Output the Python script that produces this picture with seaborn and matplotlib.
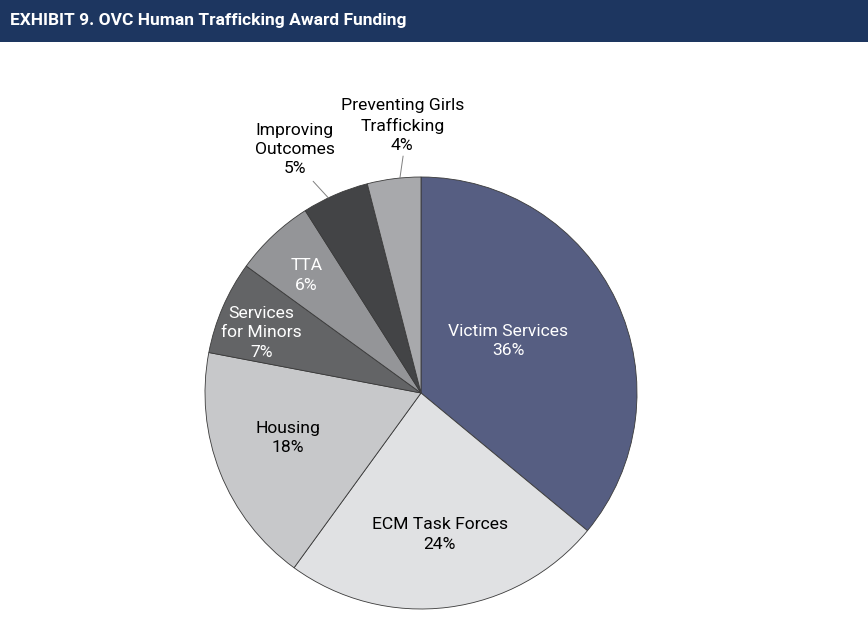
import numpy as np
import seaborn as sns
import matplotlib.pyplot as plt
from matplotlib.patches import Rectangle

sns.set_theme(style="white")
plt.rcParams['font.family'] = ['Roboto', 'DejaVu Sans']

# data
categories = ['Victim Services', 'ECM Task Forces', 'Housing', 'Services\nfor Minors',
              'TTA', 'Improving\nOutcomes', 'Preventing Girls\nTrafficking']
shares = [36, 24, 18, 7, 6, 5, 4]
colors = ['#565E82', '#E0E1E3', '#C7C8CA', '#636466', '#949598', '#434446', '#A8A9AC']
text_colors = ['white', 'black', 'black', 'white', 'white', 'black', 'black']
# label radius (fraction of pie radius) and angle tweak in degrees
label_r = [0.47, 0.66, 0.65, 0.79, 0.76, 1.27, 1.24]
label_dang = [5.5, 0.4, -2.9, 2.7, 1.1, 4.0, -3.2]
outside = [False, False, False, False, False, True, True]

fig = plt.figure(figsize=(8.68, 6.19), dpi=100)
ax = fig.add_axes([0, 0, 1, 1])

cx, cy, R = 421, 226, 216
wedges, _ = ax.pie(shares, colors=colors, startangle=90, counterclock=False,
                   center=(cx, cy), radius=R, frame=True,
                   wedgeprops=dict(edgecolor='#3a3a3a', linewidth=0.6))
ax.set_xlim(0, 868)
ax.set_ylim(0, 619)
ax.set_aspect('equal')
ax.axis('off')

for w, cat, s, r, da, tc, out in zip(wedges, categories, shares, label_r,
                                       label_dang, text_colors, outside):
    mid = np.deg2rad((w.theta1 + w.theta2) / 2)
    ang = mid + np.deg2rad(da)
    x = cx + r * R * np.cos(ang)
    y = cy + r * R * np.sin(ang)
    ax.text(x, y, f'{cat}\n{s}%', ha='center', va='center', fontsize=12.6,
            color=tc, linespacing=1.37)
    if out:
        a0 = mid + np.deg2rad(da * 0.5)
        a1 = a0 + np.deg2rad(da * 0.4)
        ax.plot([cx + R * np.cos(a0), cx + 1.1 * R * np.cos(a1)],
                [cy + R * np.sin(a0), cy + 1.1 * R * np.sin(a1)],
                color='#7f7f7f', lw=0.7)

# title banner
fig.patches.append(Rectangle((0, 1 - 42 / 619), 1, 42 / 619, transform=fig.transFigure,
                             facecolor='#1D3660', edgecolor='none', zorder=0))
fig.text(10 / 868, 1 - 21 / 619, 'EXHIBIT 9. OVC Human Trafficking Award Funding',
         color='white', fontsize=12.5, fontweight='bold', ha='left', va='center')

fig.savefig('out.png', dpi=100, facecolor='white')
